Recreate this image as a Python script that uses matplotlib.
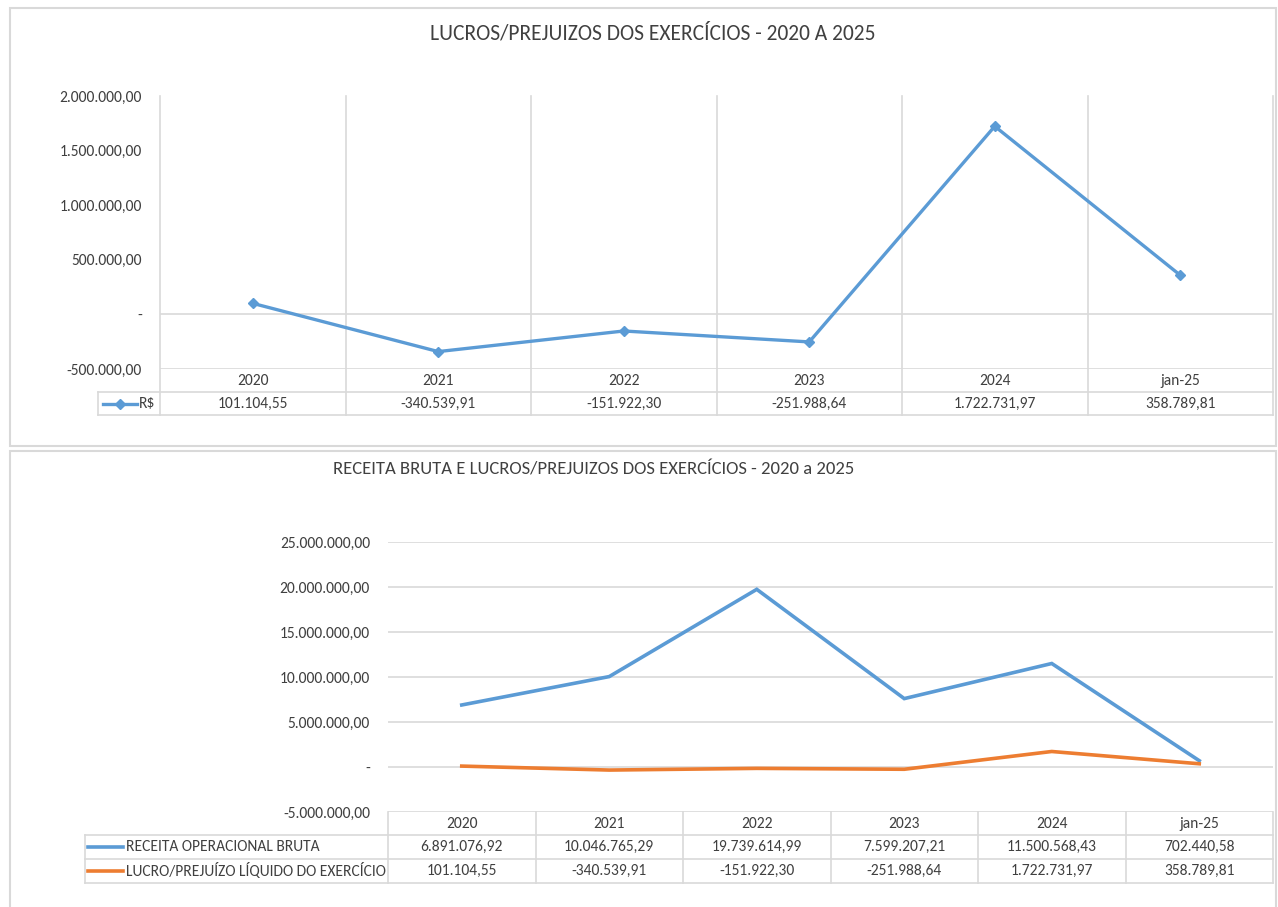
import numpy as np
import matplotlib
matplotlib.use("Agg")
import matplotlib.pyplot as plt
import matplotlib.transforms as mtransforms
from matplotlib.lines import Line2D
from matplotlib.patches import Rectangle

plt.rcParams['font.family'] = ['Carlito', 'Liberation Sans', 'DejaVu Sans']
plt.rcParams['text.color'] = '#404040'
plt.rcParams['xtick.color'] = '#404040'
plt.rcParams['ytick.color'] = '#404040'

# data
anos = ['2020', '2021', '2022', '2023', '2024', 'jan-25']
lucro = [101104.55, -340539.91, -151922.30, -251988.64, 1722731.97, 358789.81]
receita = [6891076.92, 10046765.29, 19739614.99, 7599207.21, 11500568.43, 702440.58]
ticks_top = [-500000, 0, 500000, 1000000, 1500000, 2000000]
ticks_bot = [-5000000, 0, 5000000, 10000000, 15000000, 20000000, 25000000]

BLUE = '#5B9BD5'
ORANGE = '#ED7D31'
GRID = '#D9D9D9'
FS = 11.2

W, H = 1278, 907


def fx(px):
    return px / W


def fy(py):
    return 1 - py / H


def br(v):
    s = f"{v:,.2f}"
    return s.replace(',', '#').replace('.', ',').replace('#', '.')


def br_tick(v, pos=None):
    if v == 0:
        return '-'
    return br(v)


def fline(xs, ys, **kw):
    fig.add_artist(Line2D([fx(x) for x in xs], [fy(y) for y in ys],
                          color=GRID, lw=1.2, **kw))


fig = plt.figure(figsize=(W / 100, H / 100), dpi=100)
x = np.arange(len(anos))

# panel borders
for (x0, y0, x1, y1) in [(10, 8, 1276, 446), (10, 451, 1276, 910)]:
    fig.add_artist(Rectangle((fx(x0), fy(y1)), fx(x1) - fx(x0), fy(y0) - fy(y1),
                             transform=fig.transFigure, fill=False,
                             edgecolor=GRID, lw=1.5))

# %% top chart
L1, R1, T1, B1 = 160, 1273, 96, 369
ax1 = fig.add_axes([fx(L1), fy(B1), fx(R1) - fx(L1), fy(T1) - fy(B1)])
ax1.plot(x, lucro, color=BLUE, lw=2.4, marker='D', ms=5.5, zorder=3)
ax1.set_xlim(-0.5, len(anos) - 0.5)
ax1.set_ylim(ticks_top[0], ticks_top[-1])
ax1.set_yticks(ticks_top)
ax1.yaxis.set_major_formatter(plt.FuncFormatter(br_tick))
ax1.set_xticks([])
ax1.tick_params(axis='y', length=0, pad=13, labelsize=FS)
for s in ax1.spines.values():
    s.set_visible(False)
ax1.axhline(0, color=GRID, lw=1.2, zorder=1)
ax1.axhline(ticks_top[0], color=GRID, lw=1.2, zorder=1)

tr1 = mtransforms.blended_transform_factory(ax1.transData, fig.transFigure)
for k in range(len(anos) + 1):
    ax1.plot([k - 0.5, k - 0.5], [fy(T1), fy(415)], transform=tr1,
             color=GRID, lw=1.2, clip_on=False, zorder=1)
fline([98, R1], [392, 392])
fline([98, R1], [415, 415])
fline([98, 98], [392, 415])
for i, a in enumerate(anos):
    ax1.text(i, fy(381), a, transform=tr1, ha='center', va='center', fontsize=FS)
    ax1.text(i, fy(404), br(lucro[i]), transform=tr1, ha='center', va='center', fontsize=FS)
fig.add_artist(Line2D([fx(103), fx(137)], [fy(404), fy(404)], color=BLUE, lw=2.4))
fig.add_artist(Line2D([fx(120)], [fy(404)], color=BLUE, marker='D', ms=5.5, lw=0))
fig.text(fx(139), fy(404), 'R$', ha='left', va='center', fontsize=FS)

fig.text(fx(653), fy(33), 'LUCROS/PREJUIZOS DOS EXERCÍCIOS - 2020 A 2025',
         ha='center', va='center', fontsize=15.5)

# %% bottom chart
L2, R2, T2, B2 = 388, 1273, 542, 812
ax2 = fig.add_axes([fx(L2), fy(B2), fx(R2) - fx(L2), fy(T2) - fy(B2)])
ax2.plot(x, receita, color=BLUE, lw=2.6, solid_joinstyle='miter', zorder=3)
ax2.plot(x, lucro, color=ORANGE, lw=2.6, solid_joinstyle='miter', zorder=3)
ax2.set_xlim(-0.5, len(anos) - 0.5)
ax2.set_ylim(ticks_bot[0], ticks_bot[-1])
ax2.set_yticks(ticks_bot)
ax2.yaxis.set_major_formatter(plt.FuncFormatter(br_tick))
ax2.set_xticks([])
ax2.tick_params(axis='y', length=0, pad=13, labelsize=FS)
for s in ax2.spines.values():
    s.set_visible(False)
ax2.yaxis.grid(True, color=GRID, lw=1.2, zorder=0)
ax2.set_axisbelow(True)

tr2 = mtransforms.blended_transform_factory(ax2.transData, fig.transFigure)
for k in range(len(anos) + 1):
    ax2.plot([k - 0.5, k - 0.5], [fy(B2), fy(883)], transform=tr2,
             color=GRID, lw=1.2, clip_on=False)
fline([85, R2], [835, 835])
fline([85, R2], [859, 859])
fline([85, R2], [883, 883])
fline([85, 85], [835, 883])
for i, a in enumerate(anos):
    ax2.text(i, fy(824), a, transform=tr2, ha='center', va='center', fontsize=FS)
    ax2.text(i, fy(847), br(receita[i]), transform=tr2, ha='center', va='center', fontsize=FS)
    ax2.text(i, fy(871), br(lucro[i]), transform=tr2, ha='center', va='center', fontsize=FS)
fig.add_artist(Line2D([fx(88), fx(123)], [fy(847), fy(847)], color=BLUE, lw=2.6))
fig.add_artist(Line2D([fx(88), fx(123)], [fy(871), fy(871)], color=ORANGE, lw=2.6))
fig.text(fx(126), fy(847), 'RECEITA OPERACIONAL BRUTA', ha='left', va='center', fontsize=FS)
fig.text(fx(126), fy(871), 'LUCRO/PREJUÍZO LÍQUIDO DO EXERCÍCIO', ha='left', va='center', fontsize=FS)

fig.text(fx(594), fy(470), 'RECEITA BRUTA E LUCROS/PREJUIZOS DOS EXERCÍCIOS - 2020 a 2025',
         ha='center', va='center', fontsize=13.4)

fig.savefig('out.png', dpi=100, facecolor='white')
